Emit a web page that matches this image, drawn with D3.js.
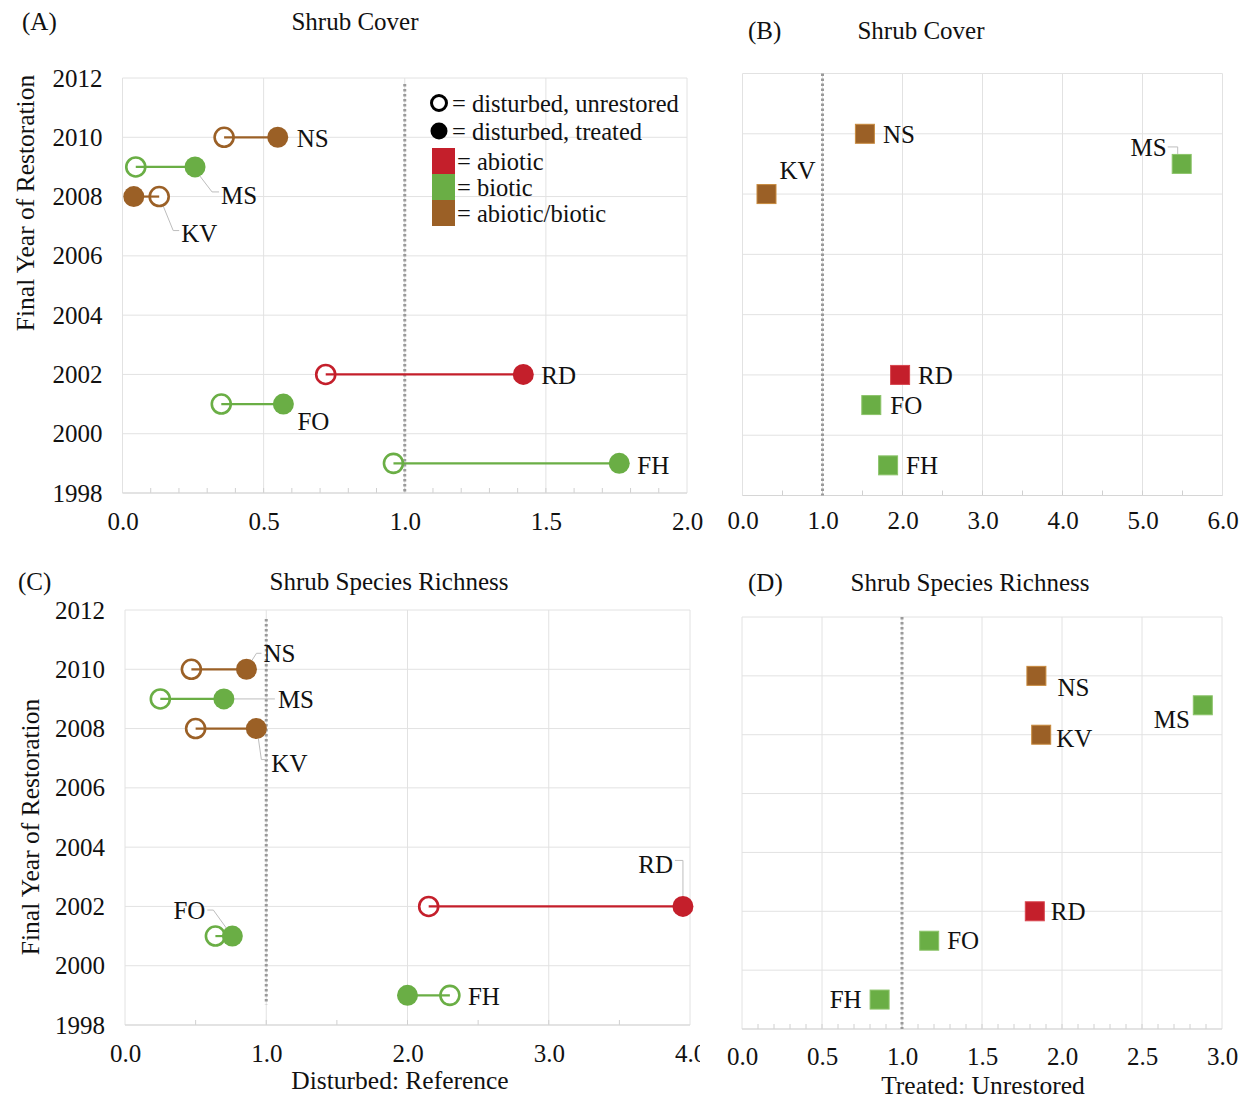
<!DOCTYPE html>
<html>
<head>
<meta charset="utf-8">
<script src="https://cdn.jsdelivr.net/npm/d3@7"></script>
<style>
  body { margin: 0; background: #fff; }
  svg text { font-family: "Liberation Serif", "Times New Roman", serif; fill: #111; }
</style>
</head>
<body>
<svg id="fig" width="1249" height="1101"></svg>
<script>
// ---- data ----
const sites = ["NS", "MS", "KV", "RD", "FO", "FH"];
const finalYear = [2010, 2009, 2008, 2002, 2001, 1999];
const restorationType = ["abiotic/biotic", "biotic", "abiotic/biotic", "abiotic", "biotic", "biotic"];

// Shrub cover, disturbed : reference
const coverUnrestored = [0.36, 0.047, 0.13, 0.72, 0.35, 0.96];
const coverTreated    = [0.55, 0.257, 0.04, 1.42, 0.57, 1.76];
// Shrub cover, treated : unrestored
const coverRatio      = [1.53, 5.49, 0.30, 1.97, 1.61, 1.82];

// Shrub species richness, disturbed : reference
const richnessUnrestored = [0.47, 0.25, 0.50, 2.15, 0.64, 2.30];
const richnessTreated    = [0.86, 0.70, 0.93, 3.95, 0.76, 2.00];
// Shrub species richness, treated : unrestored
const richnessRatio      = [1.84, 2.88, 1.87, 1.83, 1.17, 0.86];

const yearTicks = [1998, 2000, 2002, 2004, 2006, 2008, 2010, 2012];
const ticksA = [0, 0.5, 1, 1.5, 2];
const ticksB = [0, 1, 2, 3, 4, 5, 6];
const ticksC = [0, 1, 2, 3, 4];
const ticksD = [0, 0.5, 1, 1.5, 2, 2.5, 3];

const legendMarkers = ["= disturbed, unrestored", "= disturbed, treated"];
const legendTypes = ["abiotic", "biotic", "abiotic/biotic"];

// ---- styling ----
const typeColor = { "abiotic": "#C41F2B", "biotic": "#6AAE45", "abiotic/biotic": "#9B6026" };
const typeEdge  = { "abiotic": "#D8454E", "biotic": "#8CC46A", "abiotic/biotic": "#C88A3E" };
const gridColor = "#E2E2E2";
const fontSize = 25;
const fmt = d3.format(".1f");

// label placement (pixel offsets from the anchoring marker)
const labelsA = {
  NS: { at: "treat",  dx: 19, dy: 1 },
  MS: { at: "treat",  dx: 26, dy: 28, leader: [[4, 8], [17, 25], [24, 25]] },
  KV: { at: "unrest", dx: 22, dy: 37, leader: [[1, 2], [14, 34], [20, 34]] },
  RD: { at: "treat",  dx: 18, dy: 1 },
  FO: { at: "treat",  dx: 14, dy: 17 },
  FH: { at: "treat",  dx: 18, dy: 2 }
};
const labelsB = {
  NS: { dx: 18, dy: 0 },
  MS: { dx: -15, dy: -17, anchor: "end", leader: [[-14, -17], [-4, -17], [-4, -10]] },
  KV: { dx: 13, dy: -24 },
  RD: { dx: 18, dy: 0 },
  FO: { dx: 19, dy: 0 },
  FH: { dx: 18, dy: 0 }
};
const labelsC = {
  NS: { at: "treat",  dx: 17, dy: -16, leader: [[3, -5], [10, -16], [15, -16]] },
  MS: { at: "treat",  dx: 54, dy: 0, leader: [[9, 0], [51, 0]] },
  KV: { at: "treat",  dx: 15, dy: 35, leader: [[2, 10], [5, 31], [11, 31]] },
  RD: { at: "treat",  dx: -10, dy: -42, anchor: "end", leader: [[-8, -46], [0, -46], [0, -10]] },
  FO: { at: "treat",  dx: -27, dy: -26, anchor: "end", leader: [[-25, -26], [-19, -26], [-6, -8]] },
  FH: { at: "unrest", dx: 18, dy: 1 }
};
const labelsD = {
  NS: { dx: 21, dy: 11 },
  MS: { dx: -13, dy: 14, anchor: "end" },
  KV: { dx: 15, dy: 4 },
  RD: { dx: 16, dy: 0 },
  FO: { dx: 18, dy: 0 },
  FH: { dx: -18, dy: 0, anchor: "end" }
};

const panels = [
  { tag: "(A)", tagX: 22, title: "Shrub Cover", titleX: 355, titleY: 21,
    left: 122.5, right: 687, top: 78, bottom: 493, ticks: ticksA, minor: 0.1, pad: 19,
    yLabels: true, yTitleX: 25, yTitleY: 203, kind: "dumbbell", unrest: coverUnrestored, treat: coverTreated,
    labels: labelsA, ref: [2011.8, 1998], legend: true },
  { tag: "(B)", tagX: 748, title: "Shrub Cover", titleX: 921, titleY: 30,
    left: 742.5, right: 1222.5, top: 73.5, bottom: 495.5, ticks: ticksB, minor: 0.5, pad: 16,
    yLabels: false, kind: "ratio", ratio: coverRatio, labels: labelsB, ref: [2012, 1998] },
  { tag: "(C)", tagX: 18, title: "Shrub Species Richness", titleX: 389, titleY: 581,
    left: 125, right: 690, top: 610, bottom: 1025, ticks: ticksC, minor: 0.5, pad: 19,
    yLabels: true, yTitleX: 30, yTitleY: 827, kind: "dumbbell", unrest: richnessUnrestored, treat: richnessTreated,
    labels: labelsC, ref: [2011.7, 1998.7], xTitle: "Disturbed: Reference", xTitleX: 400, xTitleY: 1080, clipRight: 700 },
  { tag: "(D)", tagX: 748, title: "Shrub Species Richness", titleX: 970, titleY: 582,
    left: 742, right: 1222, top: 617, bottom: 1029, ticks: ticksD, minor: 0.1, pad: 18,
    yLabels: false, kind: "ratio", ratio: richnessRatio, labels: labelsD, ref: [2012, 1998],
    xTitle: "Treated: Unrestored", xTitleX: 983, xTitleY: 1085 }
];

const svg = d3.select("#fig");
svg.append("rect").attr("width", 1249).attr("height", 1101).attr("fill", "#fff");

panels.forEach((p, pi) => {
  let g = svg.append("g");
  if (p.clipRight) {
    svg.append("clipPath").attr("id", "clip" + pi)
      .append("rect").attr("x", 0).attr("y", p.top - 60).attr("width", p.clipRight).attr("height", 600);
    g.attr("clip-path", `url(#clip${pi})`);
  }
  const xMax = p.ticks[p.ticks.length - 1];
  const x = d3.scaleLinear().domain([0, xMax]).range([p.left, p.right]);
  const y = d3.scaleLinear().domain([1998, 2012]).range([p.bottom, p.top]);

  // panel tag and title
  g.append("text").attr("x", p.tagX).attr("y", p.titleY).attr("dy", "0.35em")
    .attr("font-size", fontSize).text(p.tag);
  g.append("text").attr("x", p.titleX).attr("y", p.titleY).attr("dy", "0.35em")
    .attr("text-anchor", "middle").attr("font-size", fontSize).text(p.title);

  // gridlines
  g.append("g").selectAll("line").data(yearTicks).join("line")
    .attr("x1", p.left).attr("x2", p.right)
    .attr("y1", d => y(d)).attr("y2", d => y(d))
    .attr("stroke", gridColor).attr("stroke-width", 1);
  g.append("g").selectAll("line").data(p.ticks).join("line")
    .attr("x1", d => x(d)).attr("x2", d => x(d))
    .attr("y1", p.top).attr("y2", p.bottom)
    .attr("stroke", gridColor).attr("stroke-width", 1);

  // minor tick marks along the bottom
  const nMinor = Math.round(xMax / p.minor);
  const minorVals = d3.range(1, nMinor).map(i => i * p.minor);
  g.append("g").selectAll("line").data(minorVals).join("line")
    .attr("x1", d => x(d)).attr("x2", d => x(d))
    .attr("y1", p.bottom).attr("y2", p.bottom - 5)
    .attr("stroke", "#D0D0D0").attr("stroke-width", 1);
  g.append("line").attr("x1", p.left).attr("x2", p.right)
    .attr("y1", p.bottom).attr("y2", p.bottom)
    .attr("stroke", "#D6D6D6").attr("stroke-width", 1.2);

  // x axis labels
  const xa = g.append("g").attr("transform", `translate(0,${p.bottom})`)
    .call(d3.axisBottom(x).tickValues(p.ticks).tickFormat(fmt).tickSize(0).tickPadding(p.pad));
  xa.select(".domain").remove();
  xa.selectAll("text").attr("font-size", fontSize).attr("font-family", null).attr("fill", "#111");

  // y axis labels
  if (p.yLabels) {
    const ya = g.append("g").attr("transform", `translate(${p.left},0)`)
      .call(d3.axisLeft(y).tickValues(yearTicks).tickFormat(d3.format("d")).tickSize(0).tickPadding(20));
    ya.select(".domain").remove();
    ya.selectAll("text").attr("font-size", fontSize).attr("font-family", null).attr("fill", "#111");
    g.append("text").attr("transform", `translate(${p.yTitleX},${p.yTitleY}) rotate(-90)`)
      .attr("dy", "0.35em").attr("text-anchor", "middle").attr("font-size", fontSize + 0.5)
      .text("Final Year of Restoration");
  }
  if (p.xTitle) {
    g.append("text").attr("x", p.xTitleX)
      .attr("y", p.xTitleY).attr("dy", "0.35em").attr("text-anchor", "middle")
      .attr("font-size", fontSize + 0.5).text(p.xTitle);
  }

  // reference line at ratio = 1
  g.append("line").attr("x1", x(1)).attr("x2", x(1))
    .attr("y1", y(p.ref[0])).attr("y2", y(p.ref[1]))
    .attr("stroke", "#9A9A9A").attr("stroke-width", 3).attr("stroke-dasharray", "2.5,2.5");

  const rows = sites.map((s, i) => ({
    site: s, year: finalYear[i], type: restorationType[i],
    u: p.unrest ? p.unrest[i] : null, t: p.treat ? p.treat[i] : null,
    r: p.ratio ? p.ratio[i] : null
  }));

  const anchorPt = d => {
    const L = p.labels[d.site];
    if (p.kind === "ratio") return [x(d.r), y(d.year)];
    return [x(L.at === "unrest" ? d.u : d.t), y(d.year)];
  };

  // leader lines
  g.append("g").selectAll("polyline").data(rows.filter(d => p.labels[d.site].leader)).join("polyline")
    .attr("points", d => {
      const [ax, ay] = anchorPt(d);
      return p.labels[d.site].leader.map(([lx, ly]) => `${ax + lx},${ay + ly}`).join(" ");
    })
    .attr("fill", "none").attr("stroke", "#BDBDBD").attr("stroke-width", 1);

  if (p.kind === "dumbbell") {
    g.append("g").selectAll("circle").data(rows).join("circle")
      .attr("cx", d => x(d.u)).attr("cy", d => y(d.year)).attr("r", 9.5)
      .attr("fill", "#fff").attr("stroke", d => typeColor[d.type]).attr("stroke-width", 2.6);
    g.append("g").selectAll("line").data(rows).join("line")
      .attr("x1", d => x(d.u)).attr("x2", d => x(d.t))
      .attr("y1", d => y(d.year)).attr("y2", d => y(d.year))
      .attr("stroke", d => typeColor[d.type]).attr("stroke-width", 2.2);
    g.append("g").selectAll("circle").data(rows).join("circle")
      .attr("cx", d => x(d.t)).attr("cy", d => y(d.year)).attr("r", 10.5)
      .attr("fill", d => typeColor[d.type]);
  } else {
    const s = 19;
    g.append("g").selectAll("rect").data(rows).join("rect")
      .attr("x", d => x(d.r) - s / 2).attr("y", d => y(d.year) - s / 2)
      .attr("width", s).attr("height", s)
      .attr("fill", d => typeColor[d.type]).attr("stroke", d => typeEdge[d.type]).attr("stroke-width", 1);
  }

  // site labels
  g.append("g").selectAll("text").data(rows).join("text")
    .attr("x", d => anchorPt(d)[0] + p.labels[d.site].dx)
    .attr("y", d => anchorPt(d)[1] + p.labels[d.site].dy)
    .attr("dy", "0.35em")
    .attr("text-anchor", d => p.labels[d.site].anchor || "start")
    .attr("font-size", fontSize).text(d => d.site);

  // legend
  if (p.legend) {
    const lg = g.append("g");
    const lx = 439, textX = 452;
    const markerY = [103, 131];
    lg.append("circle").attr("cx", lx).attr("cy", markerY[0]).attr("r", 7.5)
      .attr("fill", "#fff").attr("stroke", "#000").attr("stroke-width", 3);
    lg.append("circle").attr("cx", lx).attr("cy", markerY[1]).attr("r", 8.5).attr("fill", "#000");
    lg.selectAll("text.m").data(legendMarkers).join("text").attr("class", "m")
      .attr("x", textX).attr("y", (d, i) => markerY[i]).attr("dy", "0.35em")
      .attr("font-size", fontSize - 0.5).text(d => d);
    const boxTop = 148, boxH = 26;
    lg.selectAll("rect").data(legendTypes).join("rect")
      .attr("x", 432).attr("y", (d, i) => boxTop + i * boxH)
      .attr("width", 23).attr("height", boxH)
      .attr("fill", d => typeColor[d]);
    lg.selectAll("text.t").data(legendTypes).join("text").attr("class", "t")
      .attr("x", 457).attr("y", (d, i) => boxTop + i * boxH + boxH / 2).attr("dy", "0.35em")
      .attr("font-size", fontSize - 0.5).text(d => "= " + d);
  }
});
</script>
</body>
</html>
